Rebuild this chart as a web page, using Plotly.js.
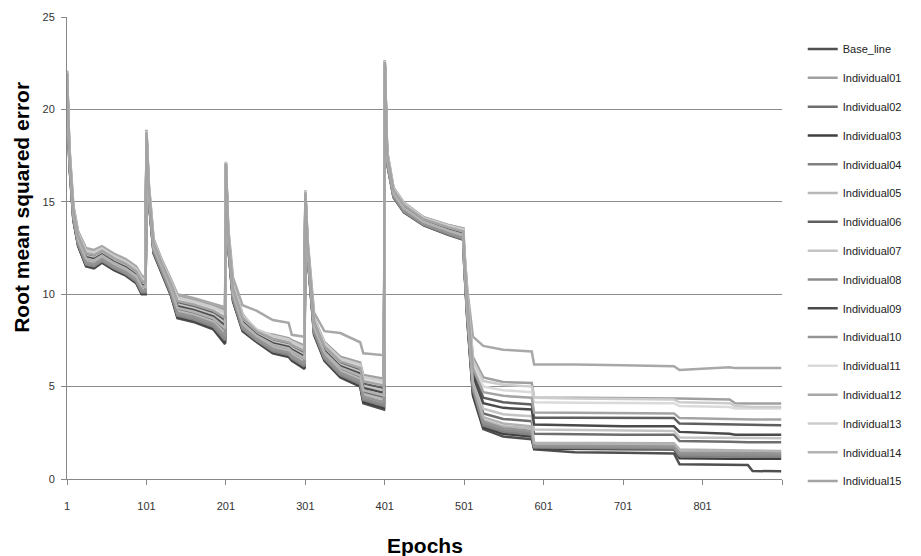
<!DOCTYPE html>
<html><head><meta charset="utf-8">
<script src="https://cdn.plot.ly/plotly-3.0.1.min.js"></script>
<style>html,body{margin:0;padding:0;background:#fff}#chart{width:921px;height:556px}</style>
</head><body><div id="chart"></div>
<script>
const epochs = [1,4,9,15,25,35,45,60,75,88,95,100,
  101,104,110,120,132,140,160,185,200,
  201,204,210,222,240,260,280,284,300,
  301,304,312,325,345,370,374,400,
  401,404,412,425,450,480,500,
  501,505,512,525,550,586,589,640,700,765,772,835,842,858,864,900];

const seriesNames = ['Base_line','Individual01','Individual02','Individual03','Individual04','Individual05','Individual06','Individual07','Individual08','Individual09','Individual10','Individual11','Individual12','Individual13','Individual14','Individual15'];

const baseLine = [21.7,17.0,14.0,12.6,11.5,11.4,11.7,11.3,11.0,10.6,10.0,10.0,
  18.4,15.0,12.2,11.2,9.9,8.7,8.5,8.1,7.3,
  16.8,12.5,9.6,8.0,7.4,6.8,6.6,6.4,5.95,
  15.2,12.0,7.8,6.4,5.5,5.0,4.1,3.76,
  22.4,17.32,15.44,14.64,13.9,13.44,13.18,
  11.5,8.5,4.5,2.7,2.3,2.15,1.6,1.45,1.42,1.38,0.8,0.78,0.77,0.76,0.43,0.42];
const ind01 = [22.07,17.93,14.74,13.34,12.43,12.33,12.54,12.14,11.84,11.44,10.93,10.84,
  18.87,15.93,12.94,11.85,10.74,9.91,9.71,9.40,9.16,
  17.17,13.43,10.53,8.93,7.94,7.82,7.62,7.52,7.21,
  15.62,12.74,8.73,7.42,6.62,6.30,5.63,5.43,
  22.67,17.74,15.76,14.96,14.17,13.76,13.55,
  12.5,10.0,6.6,5.5,5.25,5.2,4.4,4.4,4.38,4.38,4.35,4.3,4.1,4.08,4.08,4.08];
const ind02 = [21.84,17.36,14.29,12.89,11.86,11.76,12.02,11.62,11.32,10.92,10.36,10.32,
  18.58,15.36,12.49,11.45,10.22,9.17,8.97,8.6,8.02,
  16.94,12.86,9.96,8.36,7.69,7.2,7.0,6.83,6.44,
  15.36,12.29,8.16,6.8,5.93,5.5,4.69,4.41,
  22.38,17.29,15.42,14.62,13.88,13.42,13.15,
  11.85,9.1,5.3,3.55,3.25,3.13,2.45,2.42,2.4,2.4,2.05,2.02,2.0,1.99,1.99,1.99];
const ind03 = [21.72,17.05,14.04,12.64,11.55,11.45,11.75,11.35,11.05,10.65,10.05,10.05,
  18.43,15.05,12.24,11.24,9.95,8.77,8.57,8.17,7.4,
  16.82,12.55,9.65,8.05,7.44,6.86,6.66,6.46,6.02,
  15.22,12.04,7.85,6.46,5.56,5.07,4.18,3.85,
  22.23,17.04,15.23,14.43,13.73,13.23,12.94,
  11.55,8.6,4.6,2.8,2.45,2.3,1.65,1.62,1.61,1.6,1.12,1.1,1.09,1.09,1.09,1.09];
const ind04 = [21.74,17.1,14.08,12.68,11.6,11.5,11.79,11.39,11.09,10.69,10.1,10.09,
  18.45,15.1,12.28,11.27,9.99,8.83,8.63,8.24,7.5,
  16.84,12.6,9.7,8.1,7.48,6.91,6.71,6.52,6.09,
  15.25,12.08,7.9,6.51,5.62,5.14,4.27,3.94,
  22.25,17.08,15.26,14.46,13.75,13.26,12.97,
  11.6,8.7,4.8,2.9,2.55,2.4,1.7,1.67,1.66,1.65,1.25,1.22,1.2,1.2,1.2,1.2];
const ind05 = [21.82,17.3,14.24,12.84,11.8,11.7,11.97,11.57,11.27,10.87,10.3,10.27,
  18.55,15.3,12.44,11.41,10.17,9.09,8.89,8.52,7.9,
  16.92,12.8,9.9,8.3,7.64,7.13,6.93,6.76,6.36,
  15.34,12.24,8.1,6.73,5.86,5.42,4.6,4.3,
  22.35,17.24,15.38,14.58,13.85,13.38,13.11,
  11.75,8.95,5.1,3.2,2.85,2.75,1.9,1.88,1.88,1.87,1.5,1.47,1.46,1.45,1.45,1.45];
const ind06 = [21.96,17.64,14.51,13.11,12.14,12.04,12.28,11.88,11.58,11.18,10.64,10.58,
  18.72,15.64,12.71,11.65,10.48,9.53,9.33,9.0,8.58,
  17.06,13.14,10.24,8.64,7.91,7.5,7.3,7.17,6.81,
  15.49,12.51,8.44,7.1,6.27,5.9,5.16,4.91,
  22.52,17.51,15.58,14.78,14.02,13.58,13.35,
  12.0,9.5,5.8,4.4,4.15,4.03,3.32,3.31,3.3,3.3,3.0,2.95,2.92,2.91,2.91,2.91];
const ind07 = [21.93,17.57,14.46,13.06,12.07,11.97,12.21,11.81,11.51,11.11,10.57,10.51,
  18.69,15.57,12.66,11.6,10.41,9.44,9.24,8.9,8.44,
  17.03,13.07,10.17,8.57,7.86,7.43,7.23,7.08,6.72,
  15.46,12.46,8.37,7.03,6.18,5.8,5.04,4.79,
  22.49,17.46,15.54,14.74,13.99,13.54,13.3,
  11.9,9.2,5.4,3.8,3.5,3.4,2.68,2.65,2.6,2.6,2.25,2.23,2.22,2.21,2.21,2.21];
const ind08 = [21.76,17.15,14.12,12.72,11.65,11.55,11.84,11.44,11.14,10.74,10.15,10.14,
  18.48,15.15,12.32,11.31,10.04,8.9,8.7,8.31,7.6,
  16.86,12.65,9.75,8.15,7.52,6.97,6.77,6.58,6.15,
  15.27,12.12,7.95,6.57,5.68,5.21,4.35,4.03,
  22.28,17.12,15.29,14.49,13.78,13.29,13.0,
  11.65,8.8,4.9,3.0,2.65,2.5,1.75,1.73,1.72,1.71,1.32,1.29,1.28,1.28,1.28,1.28];
const ind09 = [21.9,17.5,14.4,13.0,12.0,11.9,12.15,11.75,11.45,11.05,10.5,10.45,
  18.65,15.5,12.6,11.55,10.35,9.35,9.15,8.8,8.3,
  17.0,13.0,10.1,8.5,7.8,7.35,7.15,7.0,6.63,
  15.43,12.4,8.3,6.95,6.1,5.7,4.93,4.66,
  22.45,17.4,15.5,14.7,13.95,13.5,13.25,
  11.95,9.3,5.6,4.1,3.85,3.76,2.95,2.9,2.85,2.85,2.55,2.45,2.4,2.39,2.39,2.39];
const ind10 = [21.79,17.22,14.18,12.78,11.72,11.62,11.9,11.5,11.2,10.8,10.22,10.2,
  18.51,15.22,12.38,11.35,10.1,8.99,8.79,8.41,7.74,
  16.89,12.72,9.82,8.22,7.58,7.04,6.84,6.66,6.25,
  15.3,12.18,8.02,6.64,5.76,5.31,4.46,4.16,
  22.31,17.18,15.33,14.53,13.81,13.33,13.05,
  11.7,8.9,5.0,3.1,2.75,2.6,1.8,1.78,1.77,1.76,1.42,1.39,1.38,1.38,1.38,1.38];
const ind11 = [22.02,17.8,14.64,13.24,12.3,12.2,12.42,12.02,11.72,11.32,10.8,10.72,
  18.8,15.8,12.84,11.76,10.62,9.74,9.54,9.22,8.9,
  17.12,13.3,10.4,8.8,8.04,7.68,7.48,7.36,7.03,
  15.56,12.64,8.6,7.28,6.46,6.12,5.42,5.2,
  22.6,17.64,15.68,14.88,14.1,13.68,13.46,
  12.2,9.8,6.2,5.0,4.8,4.7,4.15,4.12,4.12,4.1,3.95,3.9,3.82,3.81,3.81,3.81];
const ind12 = [22.1,18.0,14.8,13.4,12.5,12.4,12.6,12.2,11.9,11.5,11.0,10.9,
  18.9,16.0,13.0,11.9,10.8,10.0,9.8,9.5,9.3,
  17.1,13.6,10.9,9.4,9.1,8.6,8.45,7.8,7.7,
  15.5,12.9,9.0,8.0,7.9,7.4,6.8,6.7,
  22.65,17.7,15.75,14.95,14.15,13.75,13.55,
  12.4,10.2,7.7,7.2,7.0,6.9,6.2,6.2,6.15,6.1,5.9,6.05,6.0,6.0,6.0,6.0];
const ind13 = [22.04,17.86,14.69,13.29,12.36,12.26,12.47,12.07,11.77,11.37,10.86,10.77,
  18.83,15.86,12.89,11.8,10.67,9.82,9.62,9.3,9.02,
  17.14,13.36,10.46,8.86,8.09,7.75,7.55,7.43,7.11,
  15.59,12.69,8.66,7.35,6.53,6.2,5.52,5.31,
  22.63,17.69,15.72,14.92,14.13,13.72,13.5,
  12.3,9.9,6.4,5.3,5.1,5.0,4.4,4.35,4.32,4.3,4.15,4.1,3.95,3.92,3.9,3.9];
const ind14 = [21.87,17.43,14.34,12.94,11.93,11.83,12.09,11.69,11.39,10.99,10.43,10.39,
  18.62,15.43,12.54,11.5,10.29,9.26,9.06,8.7,8.16,
  16.97,12.93,10.03,8.43,7.74,7.27,7.07,6.92,6.53,
  15.39,12.34,8.23,6.87,6.02,5.6,4.81,4.53,
  22.42,17.34,15.46,14.66,13.92,13.46,13.2,
  11.8,9.0,5.2,3.35,3.0,2.85,1.96,1.95,1.95,1.94,1.6,1.55,1.53,1.52,1.52,1.52];
const ind15 = [21.99,17.72,14.58,13.18,12.22,12.12,12.35,11.95,11.65,11.25,10.72,10.65,
  18.76,15.72,12.78,11.7,10.55,9.64,9.44,9.11,8.74,
  17.09,13.22,10.32,8.72,7.98,7.59,7.39,7.26,6.92,
  15.52,12.58,8.52,7.19,6.36,6.01,5.29,5.06,
  22.56,17.58,15.63,14.83,14.06,13.63,13.4,
  12.1,9.6,6.0,4.7,4.5,4.4,3.6,3.58,3.55,3.55,3.3,3.25,3.22,3.22,3.22,3.22];

const seriesValues = [baseLine,ind01,ind02,ind03,ind04,ind05,ind06,ind07,ind08,ind09,ind10,ind11,ind12,ind13,ind14,ind15];
const seriesColors = ['#4f4f4f','#a0a0a0','#6e6e6e','#3f3f3f','#808080','#b8b8b8','#5f5f5f','#c4c4c4','#8c8c8c','#4a4a4a','#949494','#dadada','#a8a8a8','#cccccc','#b2b2b2','#a4a4a4'];

const xTickVals = [1,101,201,301,401,501,601,701,801,901];
const xTickText = ['1','101','201','301','401','501','601','701','801',''];
const yTickVals = [0,5,10,15,20,25];

const FONT = 'Liberation Sans, Arial, sans-serif';

const traces = seriesNames.map((n, i) => ({
  x: epochs, y: seriesValues[i], type: 'scatter', mode: 'lines', name: n,
  legendgroup: n, line: {color: seriesColors[i], width: 2.5}
}));

const layout = {
  width: 921, height: 556,
  margin: {l: 67, r: 139, t: 17, b: 77},
  paper_bgcolor: '#fff', plot_bgcolor: '#fff',
  font: {family: FONT, size: 11, color: '#333'},
  showlegend: true,
  legend: {x: 1.029, xanchor: 'left', y: 0.962, yanchor: 'top', font: {size: 11, color: '#222'}, tracegroupgap: 9.8, bgcolor: 'rgba(0,0,0,0)'},
  xaxis: {range: [1, 901], tickmode: 'array', tickvals: xTickVals, ticktext: xTickText,
    ticks: 'outside', ticklen: 5, tickcolor: '#888', showline: true, linecolor: '#888', linewidth: 1,
    showgrid: false, zeroline: false, tickfont: {size: 11, color: '#333'}, ticklabelstandoff: 12},
  yaxis: {range: [0, 25], tickmode: 'array', tickvals: yTickVals, ticks: 'outside', ticklen: 5, tickcolor: '#888',
    showline: true, linecolor: '#888', linewidth: 1, showgrid: true, gridcolor: '#8c8c8c', gridwidth: 1,
    zeroline: false, tickfont: {size: 11, color: '#333'}, ticklabelstandoff: 4},
  annotations: [
    {text: '<b>Root mean squared error</b>', textangle: -90, xref: 'paper', yref: 'paper',
     x: -0.063, y: 0.589, xanchor: 'center', yanchor: 'middle', showarrow: false,
     font: {family: FONT, size: 21, color: '#000'}},
    {text: '<b>Epochs</b>', xref: 'paper', yref: 'paper', x: 0.5, y: -0.145,
     xanchor: 'center', yanchor: 'middle', showarrow: false,
     font: {family: FONT, size: 21, color: '#000'}}
  ],
  hovermode: false
};

Plotly.newPlot('chart', traces, layout, {displayModeBar: false, staticPlot: true});
</script>
</body></html>
